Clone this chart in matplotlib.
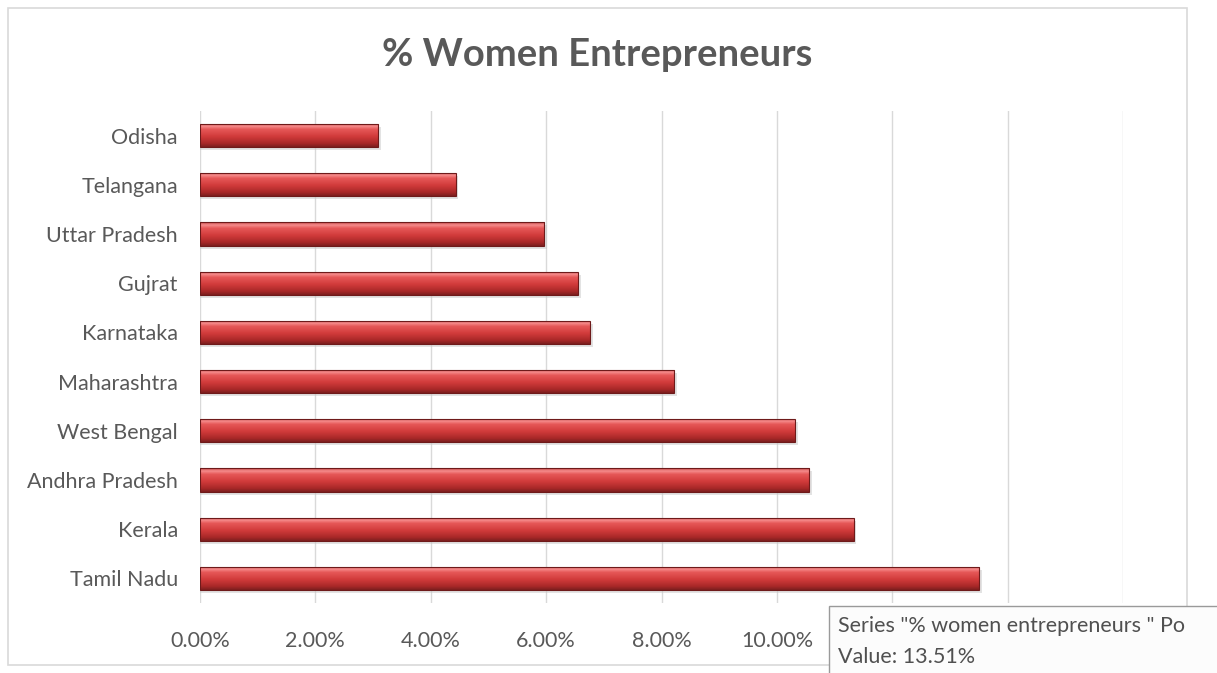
import matplotlib
matplotlib.use("Agg")
import matplotlib.pyplot as plt
import numpy as np
from matplotlib.colors import LinearSegmentedColormap
from matplotlib.patches import Rectangle
from matplotlib.ticker import FuncFormatter, MultipleLocator

states = ["Tamil Nadu", "Kerala", "Andhra Pradesh", "West Bengal", "Maharashtra",
          "Karnataka", "Gujrat", "Uttar Pradesh", "Telangana", "Odisha"]
values = [13.51, 11.33, 10.56, 10.31, 8.22, 6.76, 6.55, 5.97, 4.43, 3.09]
title = "% Women Entrepreneurs"
tooltip_lines = ['Series "% women entrepreneurs " Po', "Value: 13.51%"]
hidden_tick_from = 12  # tick labels at and beyond this value sit under the tooltip

W, H = 1217, 673
fig = plt.figure(figsize=(W / 100, H / 100), dpi=100)
fig.patch.set_facecolor("white")
FONT = "Lato"
GRAY = "#595959"

# chart border
fig.add_artist(Rectangle((8 / W, 1 - 665 / H), (1187 - 8) / W, (665 - 8) / H,
                         transform=fig.transFigure, fill=False, edgecolor="#d9d9d9", lw=1.2))

ax = fig.add_axes([200 / W, 1 - 603 / H, (1123 - 200) / W, (603 - 111) / H])
ax.set_xlim(0, 16)
y = np.arange(len(states))
ax.set_ylim(-0.5, len(states) - 0.5)
for s in ax.spines.values():
    s.set_visible(False)
ax.xaxis.set_major_locator(MultipleLocator(2))
ax.xaxis.set_major_formatter(FuncFormatter(
    lambda v, p: "" if v >= hidden_tick_from - 1e-9 else f"{v:.2f}%"))
ax.grid(axis="x", color="#d9d9d9", lw=1.0)
ax.set_axisbelow(True)
ax.tick_params(axis="both", length=0, labelsize=15.5, labelcolor=GRAY)
ax.tick_params(axis="x", pad=20)
ax.tick_params(axis="y", pad=16)
ax.set_yticks(y)
ax.set_yticklabels(states)
for lab in ax.get_xticklabels() + ax.get_yticklabels():
    lab.set_fontfamily(FONT)

bh = 0.47
cmap = LinearSegmentedColormap.from_list(
    "bar", [(0.0, "#7d1f1f"), (0.15, "#a82828"), (0.45, "#d23b3b"),
            (0.75, "#e65858"), (0.88, "#f58c8c"), (1.0, "#c94a4a")])
grad = np.linspace(0, 1, 64).reshape(-1, 1)
bars = ax.barh(y, values, height=bh, color="none", edgecolor="#6e1a1a", lw=0.8, zorder=3)
for b in bars:
    x0, y0 = b.get_x(), b.get_y()
    w, h = b.get_width(), b.get_height()
    ax.add_patch(Rectangle((x0, y0 - 0.06), w + 0.05, h, color="#c8c8c8", alpha=0.5, lw=0, zorder=1.5))
    im = ax.imshow(grad, cmap=cmap, aspect="auto", origin="lower",
                   extent=(x0, x0 + w, y0, y0 + h), zorder=2)
    im.set_clip_path(b)
ax.set_xlim(0, 16)
ax.set_ylim(-0.5, len(states) - 0.5)

fig.text(597 / W, 1 - 55 / H, title, ha="center", va="center", fontsize=27.5,
         fontweight="bold", color=GRAY, family=FONT)

# tooltip (clipped at the right edge like the reference)
tax = fig.add_axes([828 / W, 0, 1 - 828 / W, (673 - 605) / H], zorder=10)
tax.set_xlim(0, 1217 - 828)
tax.set_ylim(0, 673 - 605)
tax.axis("off")
tax.add_patch(Rectangle((0.5, -5), 500, 673 - 605 + 4.5, facecolor="#fcfcfc",
                        edgecolor="#9a9a9a", lw=1.0, clip_on=True))
tax.text(10, 673 - 626, tooltip_lines[0], ha="left", va="center", fontsize=15.5,
         color="#505050", family=FONT, clip_on=True)
tax.text(10, 673 - 657, tooltip_lines[1], ha="left", va="center", fontsize=15.5,
         color="#505050", family=FONT, clip_on=True)

fig.savefig("out.png", dpi=100)
